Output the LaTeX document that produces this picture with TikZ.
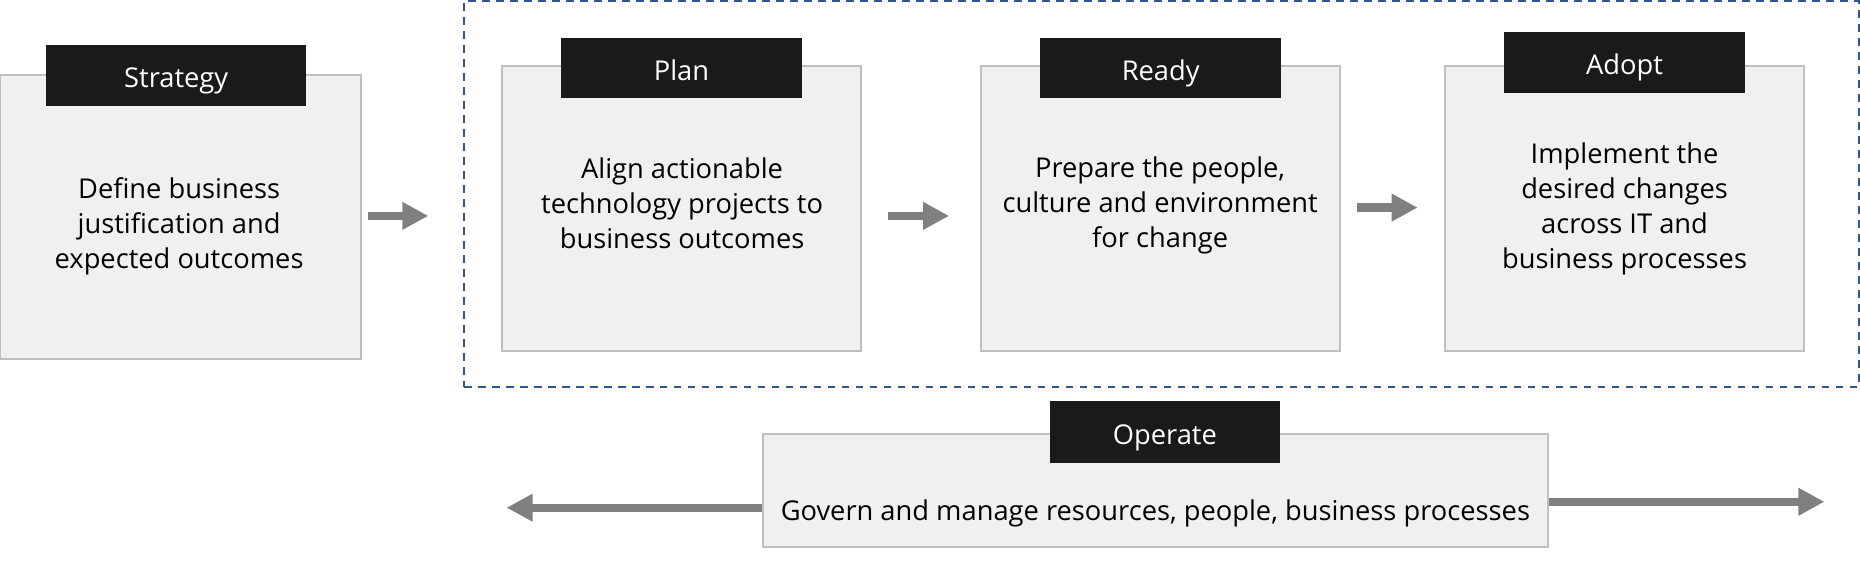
\documentclass[tikz,border=0pt]{standalone}
\usepackage{fontspec}
\setmainfont{Open Sans}
\usetikzlibrary{arrows.meta,calc}
\definecolor{boxfill}{HTML}{F0F0F0}
\definecolor{boxline}{HTML}{BFBFBF}
\definecolor{headfill}{HTML}{1A1A1A}
\definecolor{arrowgray}{HTML}{808080}
\definecolor{dashblue}{HTML}{2F5597}
\begin{document}
\begin{tikzpicture}[x=1pt,y=-1pt,
  stagebox/.style={draw=boxline,fill=boxfill,line width=1.7pt,minimum width=303pt,minimum height=240pt,inner sep=0pt},
  headbox/.style={fill=headfill,text=white,minimum width=203pt,minimum height=51pt,inner sep=0pt,text height=21pt,text depth=0pt,font=\fontsize{23}{28}\selectfont},
  bodytext/.style={align=center,font=\fontsize{23}{29.5}\selectfont,inner sep=0pt},
  bigarrow/.style={draw=arrowgray,line width=7pt,-{Triangle[length=22pt,width=22pt]},fill=arrowgray},
  groupbox/.style={draw=dashblue,line width=1.7pt,dash pattern=on 6.5pt off 5.3pt}
]
\useasboundingbox (0,0) rectangle (1568,480);
% dashed group
\node[groupbox,minimum width=1176pt,minimum height=325pt,inner sep=0pt] (group) at (979,163.5) {};
% Strategy
\node[stagebox,minimum width=304pt] (strategy) at (152,183) {};
\node[headbox,minimum width=219pt] (strategyh) at (148.5,63.5) {Strategy};
\node[bodytext] (strategyt) at (151,190.5) {Define business\\justification and\\expected outcomes};
% Plan
\node[stagebox] (plan) at (574.5,176) {};
\node[headbox] (planh) at (574.5,57.5) {Plan};
\node[bodytext] (plant) at (575,171) {Align actionable\\technology projects to\\business outcomes};
% Ready
\node[stagebox] (ready) at (978.5,176) {};
\node[headbox] (readyh) at (978.5,57.5) {Ready};
\node[bodytext] (readyt) at (978,173.5) {Prepare the people,\\culture and environment\\for change};
% Adopt
\node[stagebox] (adopt) at (1369.5,176) {};
\node[headbox] (adopth) at (1369.5,52.5) {Adopt};
\node[bodytext] (adoptt) at (1369.5,176) {Implement the\\desired changes\\across IT and\\business processes};
% Operate
\node[stagebox,minimum width=662pt,minimum height=95pt] (operate) at (974,413.5) {};
\node[headbox,minimum width=194pt,minimum height=52pt] (operateh) at (982,364) {Operate};
\node[bodytext] (operatet) at (974,432.5) {Govern and manage resources, people, business processes};
\coordinate (leftend) at (427,428);
\coordinate (rightend) at (1538,423);
% arrows
\draw[bigarrow,shorten <=5pt,shorten >=61pt] ([yshift=1pt]strategy.east) -- ([yshift=-6pt]plan.west);
\draw[bigarrow,shorten <=22pt,shorten >=26pt] ([yshift=-6pt]plan.east) -- ([yshift=-6pt]ready.west);
\draw[bigarrow,shorten <=13pt,shorten >=22pt] ([yshift=1pt]ready.east) -- ([yshift=1pt]adopt.west);
\draw[bigarrow] (operate.west |- leftend) -- (leftend);
\draw[bigarrow] (operate.east |- rightend) -- (rightend);
\end{tikzpicture}
\end{document}
